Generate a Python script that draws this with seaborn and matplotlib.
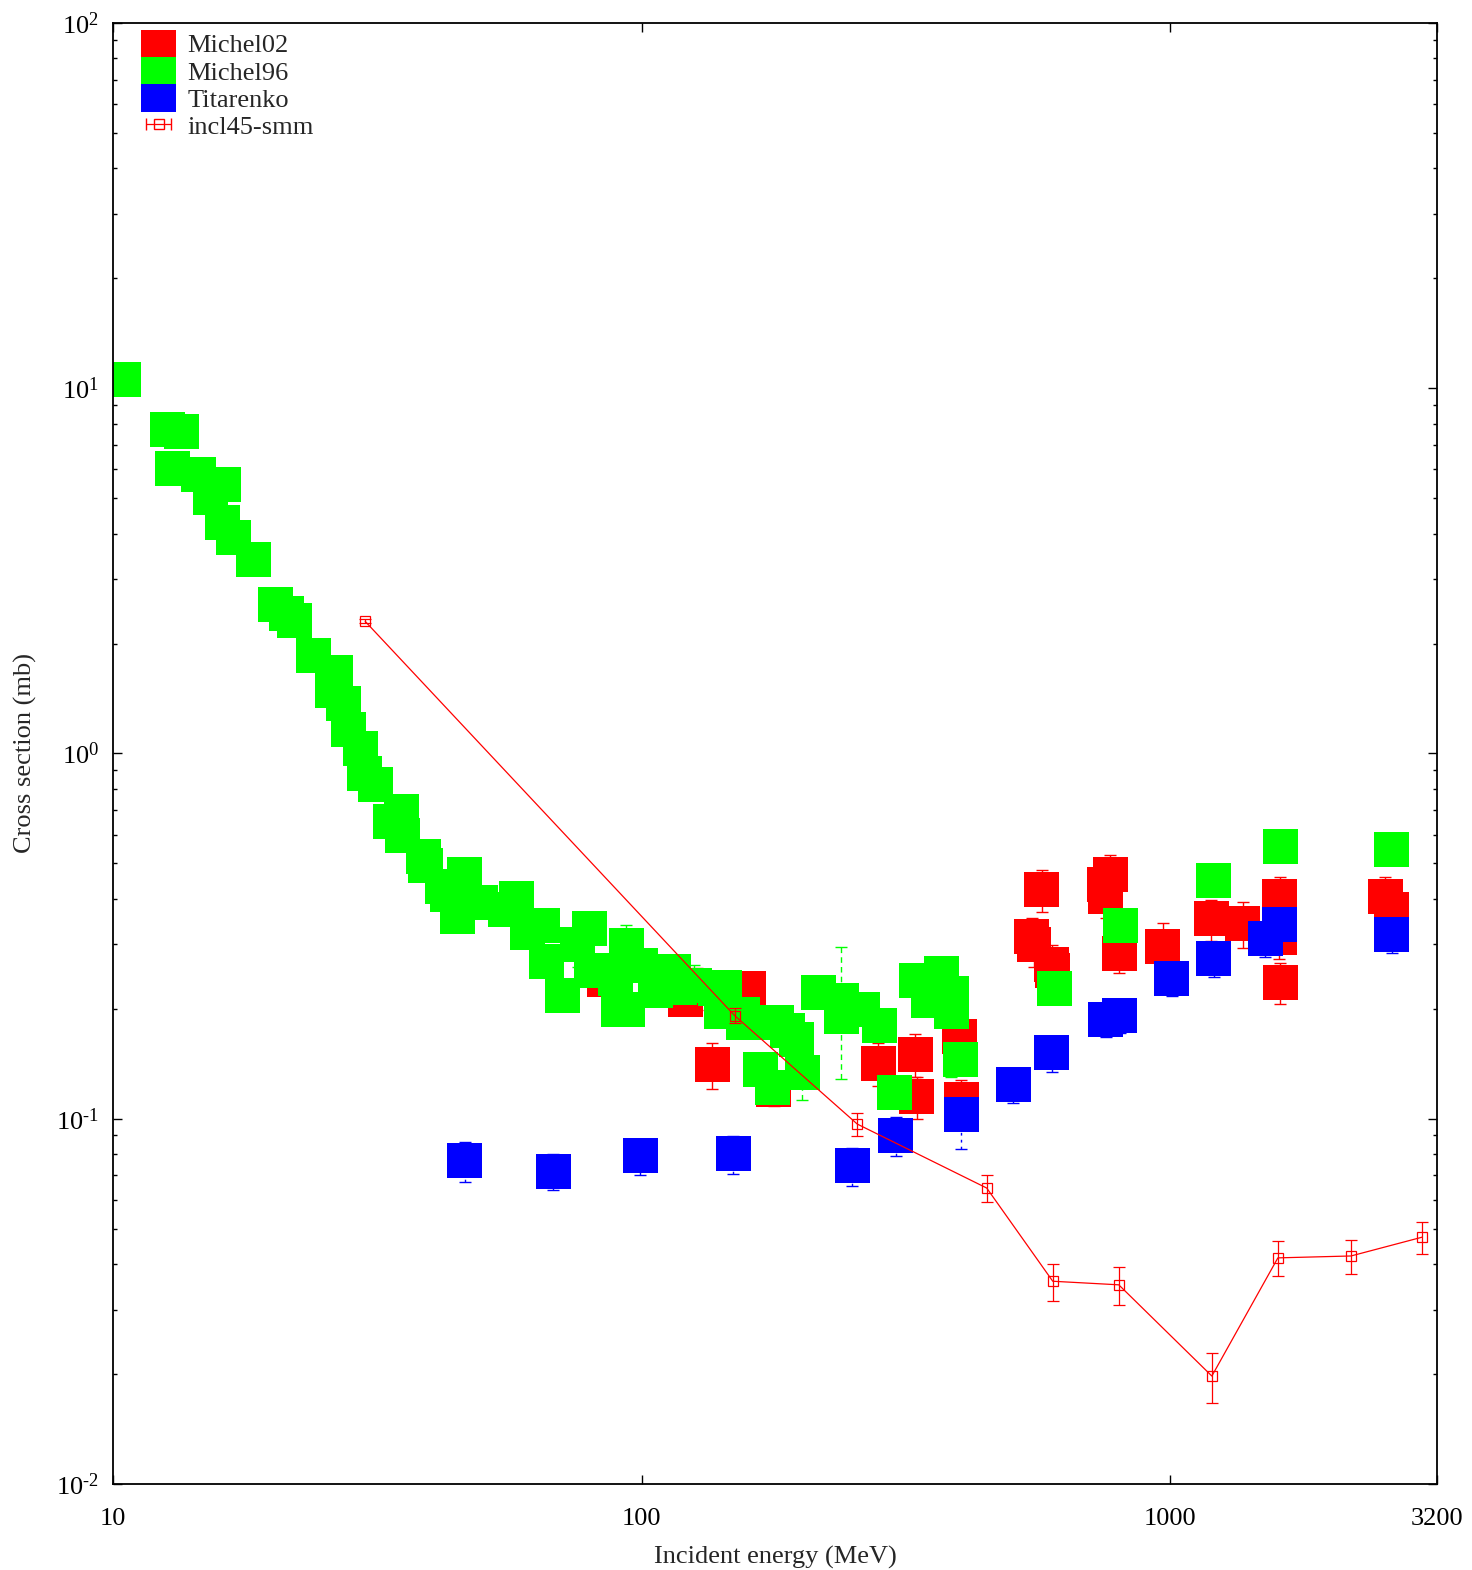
import numpy as np
import pandas as pd
import matplotlib
matplotlib.use("Agg")
import matplotlib.pyplot as plt
import seaborn as sns
from matplotlib.patches import Patch, Rectangle
from matplotlib.legend_handler import HandlerPatch, HandlerErrorbar
from matplotlib.ticker import LogLocator, NullFormatter, FixedLocator, NullLocator, FixedFormatter

# Michel02 data (MeV, mb)
michel02_e = [85.1, 109.6, 121.1, 127.4, 136.0, 159.4, 177.8, 280.3, 329.3, 331.4,
              400.5, 403.1, 571.3, 548.1, 552.9, 598.0, 600.6, 771.6, 756.6, 753.3,
              802.3, 968.1, 1198, 1372, 1612, 1612, 1608, 1615, 2557, 2625]
michel02_xs = [0.2405, 0.2345, 0.2120, 0.228, 0.1408, 0.2273, 0.1202, 0.1417, 0.1504, 0.1150,
               0.1680, 0.1129, 0.4242, 0.3145, 0.3009, 0.2636, 0.2539, 0.4650, 0.4047, 0.4365,
               0.2843, 0.2962, 0.3523, 0.3425, 0.4060, 0.3896, 0.3135, 0.2361, 0.4060, 0.3740]
michel02_err = [0.02, 0.02, 0.02, 0.03, 0.020, 0.02, 0.012, 0.019, 0.020, 0.015,
                0.02, 0.015, 0.055, 0.04, 0.04, 0.035, 0.03, 0.062, 0.05, 0.05,
                0.034, 0.047, 0.045, 0.049, 0.053, 0.05, 0.04, 0.03, 0.054, 0.045]

# Michel96 data
michel96_e = [10.47, 12.68, 13.48, 12.96, 14.51, 15.30, 16.19, 16.11, 16.90, 18.45,
              20.30, 21.30, 22.05, 23.96, 26.36, 26.03, 27.24, 27.90, 29.39, 29.91,
              31.31, 33.43, 35.15, 35.30, 38.69, 39.03, 42.02, 46.25, 42.95, 44.86,
              49.48, 55.29, 58.00, 60.84, 64.96, 66.10, 70.87, 75.67, 79.57, 80.44,
              89.1, 90.45, 93.46, 93.87, 99.57, 106.1, 115.0, 118.0, 125.7, 138.0,
              143.6, 141.7, 155.6, 155.6, 168.0, 176.6, 179.7, 189.3, 196.8, 201.6,
              215.8, 238.5, 238.5, 261.9, 282.2, 301.2, 330.7, 368.7, 349.2, 385.9,
              385.9, 402.2, 604.6, 805.8, 1211, 1615, 2625]
michel96_xs = [10.57, 7.71, 7.61, 6.03, 5.79, 5.02, 5.45, 4.29, 3.90, 3.40,
               2.56, 2.41, 2.31, 1.86, 1.67, 1.49, 1.37, 1.16, 1.03, 0.879,
               0.825, 0.651, 0.694, 0.596, 0.524, 0.494, 0.432, 0.465, 0.411, 0.357,
               0.392, 0.373, 0.402, 0.323, 0.339, 0.269, 0.218, 0.300, 0.332, 0.255,
               0.2428, 0.1985, 0.299, 0.1985, 0.262, 0.225, 0.253, 0.229, 0.232, 0.228,
               0.229, 0.1966, 0.1935, 0.1829, 0.1368, 0.1214, 0.1829, 0.1739, 0.1643, 0.1338,
               0.2216, 0.2114, 0.1911, 0.1992, 0.180, 0.118, 0.239, 0.2506, 0.2107, 0.2196,
               0.1972, 0.1453, 0.228, 0.339, 0.450, 0.556, 0.546]
# Michel96 points whose error bars stick out of the boxes
michel96_err_e = [75.67, 93.46, 125.7, 201.6, 238.5, 385.9]
michel96_err_xs = [0.300, 0.299, 0.232, 0.1338, 0.2114, 0.1972]
michel96_err = [0.04, 0.04, 0.032, 0.021, 0.083, 0.067]

# Titarenko data
titarenko_e = [46.25, 68.0, 99.35, 149.0, 250.2, 302.5, 403.1, 504.7, 598.0, 756.6,
               804.1, 1007, 1209, 1513, 1612, 2630]
titarenko_xs = [0.0769, 0.0719, 0.0791, 0.0801, 0.0743, 0.0900, 0.1027, 0.1241, 0.1514, 0.1870,
                0.1917, 0.2428, 0.2747, 0.3114, 0.3402, 0.3185]
titarenko_err = [0.0097, 0.008, 0.009, 0.0095, 0.009, 0.011, 0.02, 0.014, 0.017, 0.02,
                 0.02, 0.026, 0.03, 0.034, 0.036, 0.035]

# incl45-smm calculation
incl_e = [30, 150, 256, 450, 600, 800, 1200, 1600, 2200, 3000]
incl_xs = [2.30, 0.1917, 0.0967, 0.0646, 0.0359, 0.0351, 0.01975, 0.0416, 0.0421, 0.0474]
incl_err = [0.03, 0.0087, 0.0068, 0.0055, 0.0042, 0.0041, 0.0031, 0.0046, 0.0046, 0.0049]

colors = {"Michel02": "#ff0000", "Michel96": "#00ff00", "Titarenko": "#0000ff"}

sns.set_style("ticks")
plt.rcParams['font.family'] = ['Liberation Serif', 'DejaVu Serif']
plt.rcParams['mathtext.fontset'] = 'custom'
plt.rcParams['mathtext.rm'] = 'Liberation Serif'
plt.rcParams['mathtext.it'] = 'Liberation Serif:italic'

fig = plt.figure(figsize=(14.72, 15.70), dpi=100)
ax = fig.add_axes([0.0768, 0.05478, 0.8994, 0.93057])
ax.set_xscale('log')
ax.set_yscale('log')

# error bars under the boxes
eb = ax.errorbar(michel02_e, michel02_xs, yerr=michel02_err, fmt='none',
                 ecolor=colors["Michel02"], elinewidth=1.0, capsize=4, capthick=1.0, zorder=1)
eb = ax.errorbar(michel96_err_e, michel96_err_xs, yerr=michel96_err, fmt='none',
                 ecolor=colors["Michel96"], elinewidth=1.0, capsize=4, capthick=1.0, zorder=1)
eb[2][0].set_linestyle((0, (4, 3)))
eb = ax.errorbar(titarenko_e, titarenko_xs, yerr=titarenko_err, fmt='none',
                 ecolor=colors["Titarenko"], elinewidth=1.0, capsize=4, capthick=1.0, zorder=1)
eb[2][0].set_linestyle((0, (2, 3)))

# boxes, drawn in order Michel02, Michel96, Titarenko
df = pd.concat([
    pd.DataFrame({"energy": michel02_e, "xs": michel02_xs, "set": "Michel02"}),
    pd.DataFrame({"energy": michel96_e, "xs": michel96_xs, "set": "Michel96"}),
    pd.DataFrame({"energy": titarenko_e, "xs": titarenko_xs, "set": "Titarenko"}),
], ignore_index=True)
sns.scatterplot(data=df, x="energy", y="xs", hue="set", palette=colors, marker='s',
                s=635, linewidth=0, legend=False, ax=ax, zorder=2)

# model curve
ax.errorbar(incl_e, incl_xs, yerr=incl_err, fmt='none', ecolor='#ff0000',
            elinewidth=0.9, capsize=4, capthick=0.9, zorder=3)
sns.lineplot(x=incl_e, y=incl_xs, color='#ff0000', linewidth=0.9, marker='s',
             markersize=6.5, markerfacecolor='none', markeredgecolor='#ff0000',
             markeredgewidth=0.9, ax=ax, zorder=3)

ax.set_xlim(10, 3200)
ax.set_ylim(0.01, 100)

ax.xaxis.set_major_locator(FixedLocator([10, 100, 1000, 3200]))
ax.xaxis.set_major_formatter(FixedFormatter(['10', '100', '1000', '3200']))
ax.xaxis.set_minor_locator(NullLocator())
ax.yaxis.set_major_locator(FixedLocator([0.01, 0.1, 1, 10, 100]))
ax.yaxis.set_major_formatter(FixedFormatter([r'$10^{\text{-}2}$', r'$10^{\text{-}1}$',
                                             r'$10^{0}$', r'$10^{1}$', r'$10^{2}$']))
ax.yaxis.set_minor_locator(LogLocator(base=10, subs=np.arange(2, 10), numticks=20))
ax.yaxis.set_minor_formatter(NullFormatter())

ax.tick_params(which='both', direction='in', top=True, right=True, width=1.0, colors='black',
               labelsize=19)
ax.tick_params(which='major', length=6.5)
ax.tick_params(which='minor', length=3.2)
ax.tick_params(axis='x', which='major', pad=17)
ax.tick_params(axis='y', which='major', pad=10)
for sp in ax.spines.values():
    sp.set_linewidth(1.3)
    sp.set_color('black')

ax.set_xlabel('Incident energy (MeV)', fontsize=19, labelpad=12)
ax.set_ylabel('Cross section (mb)', fontsize=19, labelpad=13.5)


# legend: solid boxes like the data symbols
def box_patch(legend, orig_handle, xdescent, ydescent, width, height, fontsize):
    h = 19.5
    return Rectangle((-xdescent, -ydescent + height / 2 - h / 2), width, h)


dummy = ax.errorbar([np.nan], [np.nan], xerr=[1.0], color='#ff0000', marker='s', linestyle='none',
                    markersize=6.5, markerfacecolor='none', elinewidth=0.9, capsize=4)
handles = [Patch(facecolor=colors["Michel02"], edgecolor='none'),
           Patch(facecolor=colors["Michel96"], edgecolor='none'),
           Patch(facecolor=colors["Titarenko"], edgecolor='none'),
           dummy]
hmap = {h: HandlerPatch(patch_func=box_patch) for h in handles[:3]}
hmap[dummy] = HandlerErrorbar(xerr_size=0.49)
ax.legend(handles, ["Michel02", "Michel96", "Titarenko", "incl45-smm"], loc='upper left',
          bbox_to_anchor=(0.0211, 0.9943), frameon=False, fontsize=19, handlelength=1.33,
          handleheight=1.0, labelspacing=0.06, handletextpad=0.42, borderaxespad=0,
          borderpad=0, handler_map=hmap)

fig.savefig('out.png', dpi=100)
